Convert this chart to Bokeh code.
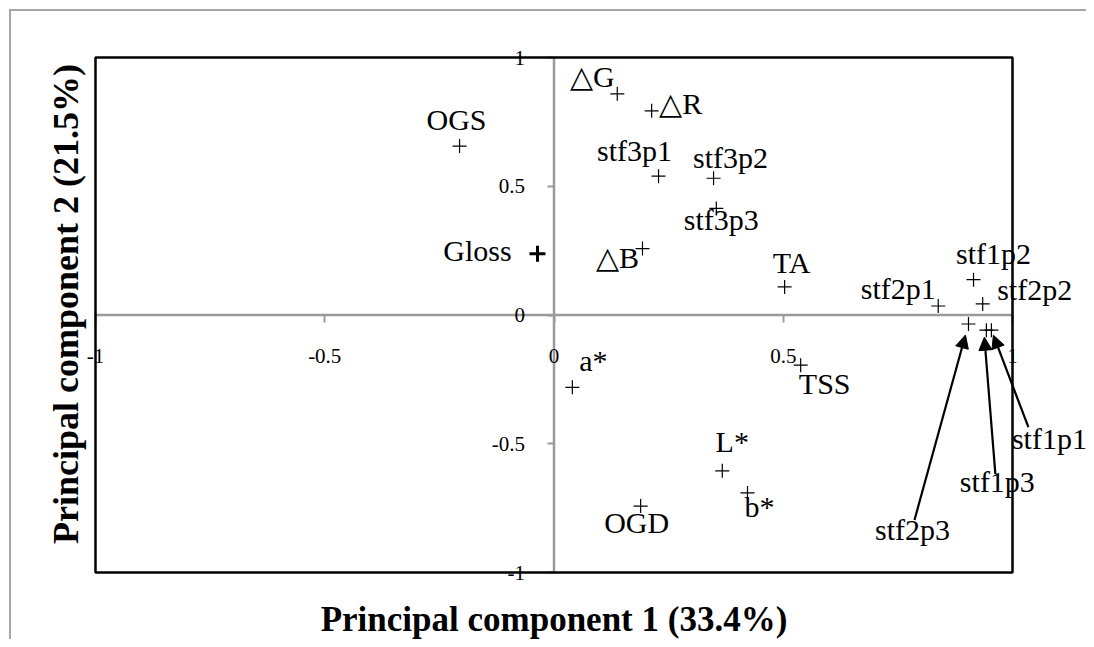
import math
from bokeh.plotting import figure
from bokeh.models import (ColumnDataSource, Arrow, NormalHead, LinearAxis,
                          FixedTicker, Range1d, BoxAnnotation)
from bokeh.core.properties import value
from bokeh.embed import file_html
from bokeh.resources import INLINE

# ---------------- data ----------------
names = ["OGS", "Gloss", "\u25b3G", "\u25b3R", "stf3p1", "stf3p2", "stf3p3", "\u25b3B",
         "TA", "stf2p1", "stf1p2", "stf2p2", "stf2p3", "stf1p3", "stf1p1",
         "a*", "TSS", "L*", "b*", "OGD"]
pc1 = [-0.206, -0.036, 0.138, 0.213, 0.228, 0.348, 0.354, 0.193,
       0.503, 0.838, 0.915, 0.935, 0.904, 0.943, 0.954,
       0.040, 0.538, 0.367, 0.422, 0.189]
pc2 = [0.656, 0.238, 0.859, 0.793, 0.539, 0.531, 0.414, 0.258,
       0.109, 0.035, 0.137, 0.043, -0.035, -0.059, -0.059,
       -0.281, -0.195, -0.605, -0.691, -0.742]
tick_values = [-1, -0.5, 0, 0.5, 1]
tick_labels = ["-1", "-0.5", "0", "0.5", "1"]
x_title = "Principal component 1 (33.4%)"
y_title = "Principal component 2 (21.5%)"

# ---------------- style ----------------
# label offsets in screen pixels (dx right, dy up)
label_dx = [-3, -60, -25, 29, -24, 17, 5, -25,
            7, -40, 20, 52, -56, 11, 58,
            21, 24, 10, 12, -4]
label_dy = [23, -1, 13, 3, 22, 17, -15, -13,
            20, 13, 22, 10, -209, -155, -112,
            23, -22, 25, -18, -20]
TEXT_DY = 4  # baseline correction for the label font
# arrows for labels placed away from their points: start offset from label, end offset from point (px)
arrow_idx = [12, 13, 14]
arrow_start_off = [(2, 13), (-2, 11), (-21, 15)]
arrow_end_off = [(-3, -11), (-2, -7), (2, -5)]

W, H = 1086, 639
LEFT, TOP, BOX_W, BOX_H = 95, 57, 917, 515
FONT = "Liberation Serif"
AX_GRAY = "#9a9a9a"
FRAME_GRAY = "#a6a6a6"
X_TITLE_OFF = 47     # px below the box bottom (text middle)
Y_TITLE_XOFF = -30   # px left of the box left edge
Y_TITLE_YOFF = -11   # px (screen, down positive) relative to y = 0

lo, hi = tick_values[0], tick_values[-1]
span = hi - lo
px_per_x = BOX_W / span
px_per_y = BOX_H / span
# the frame fills the whole canvas; the data box [-1, 1] sits where the reference box is
x_start = lo - LEFT / px_per_x
x_end = lo + (W - LEFT) / px_per_x
y_end = hi + TOP / px_per_y
y_start = lo - (H - TOP - BOX_H) / px_per_y

p = figure(width=W, height=H, frame_width=W, frame_height=H,
           min_border=0,
           x_range=Range1d(x_start, x_end), y_range=Range1d(y_start, y_end),
           output_backend="svg", toolbar_location=None,
           x_axis_location=None, y_axis_location=None,
           styles={"background-color": "white",
                   "background-image": f"linear-gradient({FRAME_GRAY},{FRAME_GRAY}), "
                                       f"linear-gradient({FRAME_GRAY},{FRAME_GRAY})",
                   "background-size": "2px 2000px, 2000px 2px",
                   "background-position": "9px 10px, 9px 9px",
                   "background-repeat": "no-repeat"})
p.xgrid.visible = False
p.ygrid.visible = False
p.outline_line_color = None
p.background_fill_color = None
p.border_fill_color = None

overrides = {}
for t, lab in zip(tick_values, tick_labels):
    overrides[int(t) if float(t).is_integer() else t] = lab

# zero lines limited to the tick span
p.segment(x0=[lo, 0], x1=[hi, 0], y0=[0, lo], y1=[0, hi],
          line_color=AX_GRAY, line_width=2.5)

# axes crossing at zero (ticks + tick labels)
for side, standoff in (("below", 27), ("left", 22)):
    ax = LinearAxis(fixed_location=0, ticker=FixedTicker(ticks=tick_values, minor_ticks=[]),
                    major_label_overrides=overrides,
                    axis_line_color=None,
                    major_tick_line_color=AX_GRAY, major_tick_line_width=2,
                    major_tick_in=0, major_tick_out=7,
                    minor_tick_line_color=None,
                    major_label_text_font=FONT, major_label_text_font_size="21px",
                    major_label_text_color="black", major_label_standoff=standoff)
    p.add_layout(ax, side)

# black plot box
p.add_layout(BoxAnnotation(left=lo, right=hi, bottom=lo, top=hi,
                           fill_alpha=0, line_color="black", line_width=2.5, line_alpha=1,
                           level="overlay"))

# axis titles
p.text(x=[0], y=[lo], text=[x_title], y_offset=X_TITLE_OFF,
       text_font=value(FONT), text_font_size="35px", text_font_style="bold",
       text_color="black", text_align="center", text_baseline="middle")
p.text(x=[lo], y=[0], text=[y_title], x_offset=Y_TITLE_XOFF, y_offset=Y_TITLE_YOFF,
       angle=math.pi / 2,
       text_font=value(FONT), text_font_size="36px", text_font_style="bold",
       text_color="black", text_align="center", text_baseline="middle")

src = ColumnDataSource(dict(x=pc1, y=pc2, name=names,
                            dx=label_dx, dy=[-(d + TEXT_DY) for d in label_dy],
                            size=[16 if n == "Gloss" else 14 for n in names],
                            lw=[3 if n == "Gloss" else 1.2 for n in names]))
p.scatter("x", "y", source=src, marker="cross", size="size", line_width="lw",
          line_color="black")
p.text("x", "y", text="name", source=src, x_offset="dx", y_offset="dy",
       text_font=value(FONT), text_font_size="30px", text_color="black",
       text_align="center", text_baseline="middle")

for i, so, eo in zip(arrow_idx, arrow_start_off, arrow_end_off):
    x0 = pc1[i] + (label_dx[i] + so[0]) / px_per_x
    y0 = pc2[i] + (label_dy[i] + so[1]) / px_per_y
    x1 = pc1[i] + eo[0] / px_per_x
    y1 = pc2[i] + eo[1] / px_per_y
    p.add_layout(Arrow(end=NormalHead(size=13, fill_color="black", line_color="black"),
                       x_start=x0, y_start=y0, x_end=x1, y_end=y1,
                       line_color="black", line_width=2.2))

open("out.html", "w").write(file_html(p, INLINE))
